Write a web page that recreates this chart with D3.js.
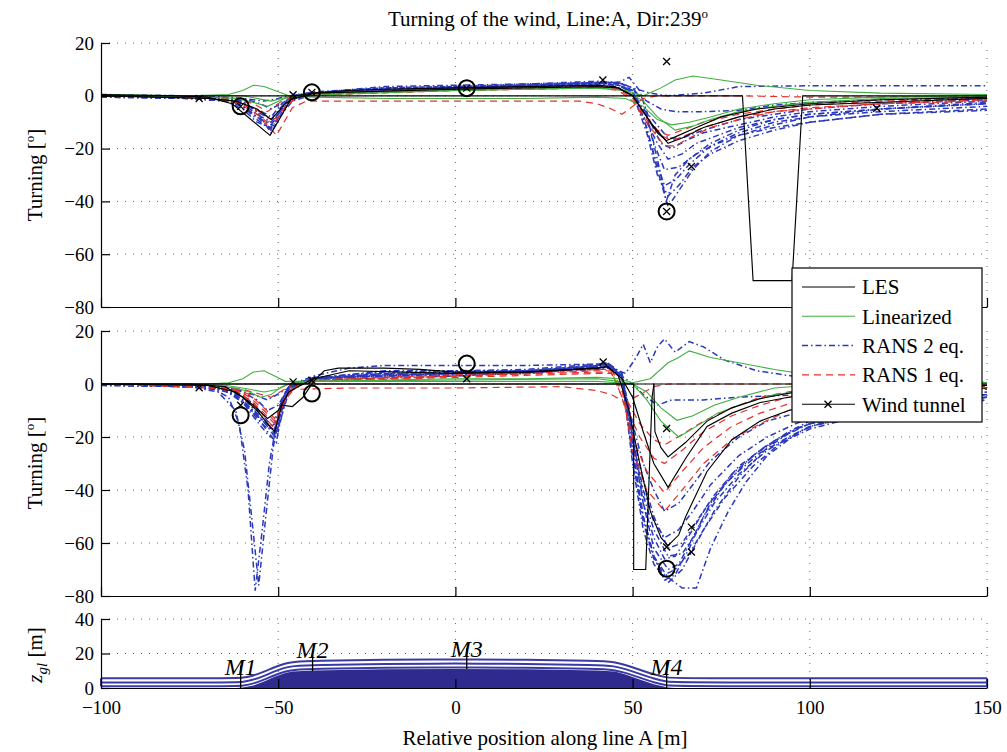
<!DOCTYPE html>
<html>
<head>
<meta charset="utf-8">
<script src="https://cdn.jsdelivr.net/npm/d3@7"></script>
<style>
body { margin: 0; background: #fff; }
svg { font-family: "Liberation Serif", "Times New Roman", serif; }
</style>
</head>
<body>
<div id="chart"></div>
<script>
// ---- data ----
var xTicks = [-100, -50, 0, 50, 100, 150];
var turnTicks = [-80, -60, -40, -20, 0, 20];
var zTicks = [0, 20, 40];

// upper panel
var topLES = [
  [[-100,0.5],[-80,0],[-70,-0.5],[-63,-3],[-52.3,-15],[-46.5,-1.5],[-40,1],[-30,2],[-20,2.5],[0,3],[20,3.5],[40,4],[45,3.5],[50,0],[54,-8],[57,-14],[59.5,-17],[63,-15],[68,-12],[75,-8],[85,-5],[100,-3],[120,-1.5],[150,-0.5]],
  [[-100,0],[81,0],[84,-70],[95,-70],[98,0],[150,0]],
  [[-100,0],[-70,-1],[-62,-2],[-56,-5],[-52,-9],[-48,-3],[-45,0],[-40,1],[0,2.5],[40,3.5],[46,3],[50,0],[55,-10],[60,-18],[64,-16],[70,-12],[80,-8],[90,-5],[100,-3.5],[150,-1]]
];
var topLin = [
  [[-100,0.5],[-75,0],[-64,0.5],[-60,2],[-57,4],[-54,3.5],[-50,1.5],[-47,0],[-45,0],[-40,1],[-20,1.5],[0,2],[20,2.5],[40,3],[48,2],[53,0],[58,3],[62,6],[67,7.5],[75,6],[85,4],[100,2],[120,1],[150,0.5]],
  [[-100,0],[-70,-0.5],[-62,-1],[-57,-2.5],[-53,-4],[-49,-1.5],[-46,0],[-40,-0.5],[-20,-1],[0,-1],[20,-1],[40,-0.5],[48,-1],[53,-4],[57,-9],[61,-11],[66,-10],[72,-8],[80,-5],[90,-3],[100,-1.5],[120,-0.5],[150,0]],
  [[-100,0],[-60,0],[-52,-2],[-46,0],[0,2],[40,3],[48,2],[53,-2],[57,-8],[62,-13],[67,-11.5],[72,-9],[80,-6],[90,-4],[100,-2.5],[120,-1],[150,-0.5]]
];
var topRans1 = [
  [[-100,0],[-70,-0.5],[-60,-3],[-55,-8],[-50.5,-15],[-46,-4.5],[-42,-2],[-20,-2],[0,-2],[20,-2],[35,-2],[40,-3],[44,-5],[47,-7],[50,-4],[53,-1],[57,0],[80,0],[100,-0.5],[120,-0.5],[150,0]],
  [[-100,0],[-70,-1],[-62,-2.5],[-57,-6],[-53,-10],[-50,-8],[-47,-3],[-44,0],[-40,1],[0,2.5],[20,3],[40,3.5],[46,3],[50,0],[54,-8],[57,-13],[60,-15],[64,-13],[70,-10],[80,-7],[90,-5],[100,-3.5],[120,-2],[150,-1]],
  [[-100,0],[-65,-1],[-58,-4],[-54,-7],[-51,-10],[-48,-4],[-45,-1],[-40,0.5],[0,2],[40,3],[46,2.5],[50,-1],[54,-9],[58,-15],[61,-17],[65,-15],[70,-12],[80,-8],[90,-6],[100,-4.5],[120,-3],[150,-2]],
  [[-100,0],[-62,-1],[-57,-3],[-53,-6],[-49,-2],[-45,0],[0,2],[40,3],[46,2],[50,-2],[55,-12],[59,-19],[62,-19],[66,-16],[72,-12],[80,-9],[90,-6],[100,-5],[120,-3],[150,-1.5]]
];
var topRans2 = [
  [[-100,0],[-75,-0.5],[-65,-1.5],[-60,-4],[-56,-9],[-52,-13],[-49,-6],[-46,-1],[-40,1],[-20,2.5],[0,3],[20,4],[40,5],[46,4.5],[50,1],[54,-12],[57,-28],[60,-42],[63,-36],[67,-28],[72,-21],[80,-15],[90,-11],[100,-8],[120,-5],[150,-3]],
  [[-100,-0.5],[-75,-1],[-65,-2],[-60,-5],[-56,-10],[-52,-12],[-49,-4],[-46,0],[-40,1.5],[-20,3],[0,3.5],[20,4.5],[40,5.5],[46,5],[50,2],[53,-8],[56,-22],[59,-34],[62,-32],[66,-26],[72,-19],[80,-14],[90,-10],[100,-8],[120,-6],[150,-4]],
  [[-100,0],[-75,-0.5],[-65,-1],[-60,-3],[-56,-7],[-52,-10],[-49,-5],[-46,-1],[-40,1],[-20,2],[0,2.5],[20,3],[40,4],[46,3],[50,0],[54,-10],[57,-18],[60,-24],[64,-22],[68,-18],[74,-15],[80,-12],[90,-9],[100,-7],[120,-5],[150,-2.5]],
  [[-100,0.5],[-75,0],[-65,-1],[-60,-2],[-56,-6],[-52,-14],[-49,-7],[-46,-2],[-40,0.5],[-20,2],[0,2.5],[20,3.5],[40,4.5],[46,4],[50,1],[54,-14],[57,-30],[60,-38],[63,-34],[67,-27],[72,-22],[80,-17],[90,-13],[100,-10],[120,-7],[150,-5]],
  [[-100,0],[-75,-1],[-65,-1.5],[-60,-3],[-56,-5],[-52,-8],[-49,-3],[-46,0],[-40,1],[-20,2.5],[0,3],[20,3.5],[40,4.5],[46,5],[49,7],[52,2],[55,-10],[58,-18],[61,-20],[65,-17],[70,-14],[80,-11],[90,-8],[100,-6],[120,-4],[150,-2]],
  [[-100,-0.5],[-75,-1],[-65,-2],[-60,-4],[-56,-8],[-52,-11],[-49,-5],[-46,-1],[-40,1],[-20,2],[0,3],[20,4],[40,5],[46,5],[50,3],[53,-2],[56,-18],[59,-28],[63,-27],[68,-22],[74,-18],[80,-15],[90,-12],[100,-10],[120,-7],[150,-5.5]],
  [[-100,0],[-70,0],[-60,-1],[-55,-3],[-52,-5],[-48,-2],[-45,0],[-40,1],[-20,3],[0,3.5],[20,4],[40,4.5],[46,4],[50,2],[54,-2],[58,-5],[62,-6],[70,-6],[80,-5.5],[90,-3.5],[100,-2.5],[120,-1.5],[150,-1]],
  [[-100,0],[-70,-0.5],[-60,-1],[-54,-2],[-50,-1],[-45,0.5],[-20,3.5],[0,4],[20,4.5],[40,5],[46,5],[50,3],[55,1],[60,0],[70,1],[80,3.5],[100,3.8],[150,3.8]],
  [[-100,0],[-75,-0.5],[-65,-1.5],[-60,-3.5],[-56,-8],[-52,-12.5],[-49,-6],[-46,-1],[-40,1],[-20,2.5],[0,3],[20,4],[40,5],[46,4],[50,2],[54,-8],[57,-24],[59.5,-40],[62,-30],[66,-24],[72,-18],[80,-13],[90,-9],[100,-7],[120,-5],[150,-3]],
  [[-100,0],[-75,-0.5],[-65,-1],[-60,-2.5],[-56,-6],[-52,-9],[-49,-4],[-46,0],[-40,1],[0,2.5],[40,4],[46,3],[50,0],[55,-8],[60,-16],[64,-16],[70,-13],[80,-9],[90,-7],[100,-5],[120,-3],[150,-1.5]]
];
var topTunnel = [[-72.3,-1],[-60.6,-4],[-45.8,0.4],[-40.5,1.3],[3.2,2.9],[41.6,6],[59.6,13],[59.6,-43.8],[66.6,-26.8],[118.9,-4.7]];
var topCircles = [[-60.6,-4],[-40.5,1.3],[3.2,2.9],[59.6,-43.8]];

// middle panel
var midLES = [
  [[-100,0],[-75,0],[-65,-1],[-60,-5],[-56,-10],[-53,-15],[-51,-18],[-49,-8],[-46,-8.5],[-43,-5],[-40,1],[-37,5],[-33,6],[-20,6],[-10,5.5],[0,4.5],[20,4.5],[40,6],[43,6.5],[46,3],[49,-10],[52,-30],[55,-48],[58,-58],[60,-61],[63,-57],[65,-50],[71,-33],[78,-21],[86,-14],[94,-10],[100,-8],[120,-4],[150,-1.5]],
  [[-100,0],[-70,-0.5],[-62,-3],[-57,-8],[-53,-13],[-50,-10],[-47,-3],[-43,0],[-40,2],[-30,5],[0,4],[20,4.5],[40,6],[43,6.5],[47,2],[50,-5],[53,-18],[56,-30],[60,-39],[65,-28],[71,-16],[78,-11],[86,-7],[94,-5],[100,-4],[120,-2],[150,-0.5]],
  [[-100,0],[56,0],[56.3,-18],[58,-24],[60,-27.5],[65,-22],[71,-14],[78,-9],[86,-5.5],[94,-3.5],[100,-2.5],[150,-0.5]],
  [[-100,0],[50.3,0],[50.3,-70],[53.7,-70],[55.5,-5],[56,0],[150,0]]
];
var midLin = [
  [[-100,0],[-70,0],[-64,0.5],[-60,2],[-57,4.5],[-54,5],[-51,3],[-48,1],[-45,1],[-40,1],[-20,1.5],[0,2],[20,2],[40,2.5],[46,2],[50,0.5],[55,2],[60,8],[63,10],[66,12.5],[72,10],[80,8],[90,5.5],[100,3.5],[120,1.5],[150,0.5]],
  [[-100,0],[-70,-0.5],[-62,-1.5],[-58,-3],[-55,-5],[-52,-4],[-49,-1],[-46,0.5],[-40,1],[0,1],[40,1],[46,0.5],[50,0],[54,-3],[58,-9],[62.5,-13.7],[67,-12],[73,-8],[80,-5],[90,-1.5],[100,-0.5],[150,0]],
  [[-100,0],[-65,-0.5],[-58,-2],[-54,-3],[-50,-2],[-47,0],[-40,1],[0,1.5],[40,2],[46,1],[50,0],[54,-6],[58,-14],[63,-20],[68,-16],[74,-11],[80,-8],[90,-4],[100,-2.5],[120,-1],[150,0]]
];
var midRans1 = [
  [[-100,0],[-70,-1],[-62,-3],[-57,-7],[-54,-12],[-51,-17],[-49,-8],[-46,-1],[-40,1],[0,2.5],[40,4],[44,4],[48,-5],[52,-15],[56,-21],[59,-23],[64,-19],[70,-14],[78,-9],[86,-5],[94,-3],[100,-2],[120,-1],[150,-0.5]],
  [[-100,0],[-70,-0.5],[-62,-2],[-58,-5],[-54,-10],[-51,-14],[-48,-5],[-45,-1],[-40,1.5],[0,3],[40,4.5],[44,4.5],[48,-8],[52,-20],[56,-28],[59,-30],[64,-25],[70,-18],[78,-12],[86,-8],[94,-5],[100,-4],[120,-2],[150,-1]],
  [[-100,0],[-70,-1],[-62,-2.5],[-58,-6],[-54,-11],[-51,-15],[-48,-6],[-45,-1],[-40,1],[0,3],[40,5],[44,5],[47,-5],[50,-20],[54,-33],[59,-41],[64,-33],[70,-24],[78,-16],[86,-11],[94,-7.5],[100,-6],[120,-3],[150,-1.5]],
  [[-100,0],[-70,-0.5],[-62,-2],[-58,-4],[-54,-9],[-51,-13],[-48,-5],[-45,-1],[-40,1.5],[0,3.5],[40,5.5],[44,5.5],[47,-2],[50,-25],[54,-40],[59,-48],[64,-40],[70,-30],[78,-21],[86,-15],[94,-10],[100,-8],[120,-4],[150,-2]],
  [[-100,0],[-60,-2],[-52,-5],[-47,-1],[-44,-2],[-30,-1.5],[0,-1.5],[30,-1],[40,-2.5],[44,-4],[48,-7],[52,-4],[56,-1],[60,0],[150,0]]
];
var midRans2 = [
  [[-100,0],[-75,-0.5],[-68,-2],[-64,-5],[-61,-15],[-58.5,-40],[-56.5,-78],[-54.5,-55],[-52.5,-30],[-50.5,-15],[-48,-3],[-45,0],[-40,2],[-20,3],[0,3.5],[20,4],[40,6.5],[43,7],[47,2],[50,-25],[53,-50],[56,-65],[59,-74],[62,-72],[66,-62],[70,-50],[76,-38],[84,-27],[92,-20],[100,-15],[120,-9],[150,-5]],
  [[-100,-0.5],[-75,-1],[-67,-3],[-62,-10],[-59.5,-25],[-57.5,-50],[-55.5,-76],[-53.5,-50],[-51.5,-25],[-49.5,-8],[-47,-1],[-40,2],[-20,3.5],[0,4],[20,4.5],[40,7],[43,7.5],[47,3],[50,-20],[53,-45],[56,-62],[60,-70],[63,-68],[67,-58],[72,-45],[78,-34],[86,-25],[94,-18],[100,-14],[120,-8],[150,-4]],
  [[-100,0],[-75,-1],[-65,-2],[-60,-6],[-56,-12],[-53,-18],[-50.5,-22],[-49,-10],[-47,-2],[-43,1],[-40,2],[-20,4],[0,4],[20,5],[40,7],[43,8],[47,3],[50,-30],[53,-55],[56,-68],[60,-75],[64,-70],[68,-60],[73,-48],[80,-35],[88,-24],[96,-17],[100,-15],[120,-9],[150,-5]],
  [[-100,0],[-75,-0.5],[-65,-1.5],[-60,-5],[-56,-11],[-53,-16],[-51,-20],[-49,-12],[-47,-3],[-43,0],[-40,2],[-20,5],[0,5],[20,5.5],[40,7.5],[43,8],[47,4],[50,-22],[53,-45],[56,-58],[59,-66],[62,-65],[66,-57],[71,-46],[78,-35],[86,-26],[94,-20],[100,-16],[120,-10],[150,-6]],
  [[-100,-0.5],[-75,-1],[-65,-2],[-60,-7],[-56,-14],[-53,-19],[-51,-21],[-49,-9],[-47,-2],[-43,1],[-40,2.5],[-20,3],[0,3.5],[20,4],[40,6],[43,7],[47,2],[50,-25],[53,-50],[56,-65],[60,-73],[64,-77],[68,-77],[72,-62],[77,-48],[82,-37],[88,-27],[97,-18],[107,-12.5],[120,-9],[150,-5]],
  [[-100,0],[-75,-0.5],[-65,-1],[-60,-4],[-56,-9],[-53,-14],[-51,-17],[-49,-7],[-47,-1],[-40,2],[-20,4],[0,4.5],[20,5],[40,6.5],[43,7],[47,2],[50,-20],[53,-40],[56,-52],[59,-58],[63,-55],[67,-48],[72,-38],[80,-27],[88,-20],[96,-15],[100,-13],[120,-8],[150,-4]],
  [[-100,0],[-75,-1],[-65,-2],[-60,-5],[-56,-10],[-53,-15],[-51,-19],[-49,-9],[-47,-2],[-40,2],[-20,3.5],[0,4],[20,4.5],[40,6.5],[43,7],[47,3],[50,-15],[53,-30],[56,-40],[59,-48],[63,-45],[67,-38],[72,-29],[80,-20],[88,-14],[96,-11],[100,-10],[120,-6],[150,-3]],
  [[-100,0],[-75,-0.5],[-65,-1],[-60,-3],[-56,-6],[-53,-10],[-50,-8],[-47,-1],[-40,1.5],[0,3],[40,5.5],[43,6],[47,3],[50,0],[53,-4],[57,-8],[61,-6],[70,-6],[80,-5],[88,-4.5],[100,-4],[120,-3],[150,-2]],
  [[-100,0],[-70,-0.5],[-62,-2],[-57,-4],[-53,-6],[-49,-3],[-45,0],[-40,2],[0,4],[40,6],[44,6],[48,4],[51,10],[53,15],[55,8],[57,14],[59,17],[62,12],[66,16],[70,14],[76,9],[85,5],[95,3],[110,1.5],[150,0.5]],
  [[-100,0],[-75,-1],[-65,-2],[-60,-6],[-56,-13],[-53,-17],[-51,-15],[-49,-6],[-47,-1],[-40,2.5],[-20,4.5],[0,5],[20,5],[40,7],[43,7.5],[47,4],[50,-18],[53,-36],[56,-50],[60,-62],[64,-60],[68,-52],[73,-42],[80,-31],[88,-23],[96,-17],[100,-15],[120,-9],[150,-5]],
  [[-100,-0.5],[-75,-1],[-65,-2.5],[-60,-7],[-56,-12],[-53,-15],[-51,-18],[-49,-8],[-47,-1],[-40,2],[-20,3],[0,3.5],[20,4],[40,6.5],[43,7],[47,3],[50,-28],[53,-52],[56,-66],[59,-72],[62,-70],[66,-64],[70,-55],[76,-43],[84,-31],[92,-22],[100,-17],[120,-10],[150,-6]],
  [[-100,0],[-70,-1],[-62,-4],[-57,-10],[-53,-16],[-50,-18],[-48,-6],[-46,0],[-40,3],[-30,6],[-20,7],[0,7],[20,7],[40,7.5],[43,8],[47,3],[50,-20],[53,-42],[56,-55],[60,-65],[64,-64],[68,-56],[73,-45],[80,-34],[88,-25],[96,-19],[100,-16],[120,-10],[150,-5]]
];
var midTunnel = [[-72.3,-1.4],[-60.6,-8],[-45.8,0.8],[-40.5,1.4],[3.2,2],[41.7,8.3],[59.6,-16.8],[59.6,-61.5],[66.6,-54],[66.6,-63.4]];
var midCircles = [[-60.6,-11.8],[-40.5,-3.6],[3.2,7.7],[59.6,-69.7]];

// lower panel: ground height along line A
var groundX = [-100,-62,-60,-57,-54,-51,-48,-46,-40,-20,0,20,40,45,48,52,56,60,62,150];
var groundZ = [0,0,0.3,1.5,3.8,6.5,8.7,9.5,10.2,10.8,11,10.8,10.2,9.5,7.8,5,2.2,0.3,0,0];
var meshOffsets = [1, 3.2, 5.6];
var mastNames = ["M1", "M2", "M3", "M4"];
var mastX = [-60.6, -40.3, 3.2, 59.6];
var mastBase = [0, 9.8, 11, 0];
var mastTop = [13, 19.5, 23, 15];
var mastLabelZ = [7.5, 17.4, 18.2, 7.5];

var legendNames = ["LES", "Linearized", "RANS 2 eq.", "RANS 1 eq.", "Wind tunnel"];

// ---- drawing ----
var width = 1007, height = 752;
var x = d3.scaleLinear().domain([-100, 150]).range([101, 987]);

var styles = {
  rans2: {stroke: "#2a38bc", width: 1.5, dash: "6,3,1.5,3"},
  rans1: {stroke: "#e4302a", width: 1.2, dash: "7,5"},
  lin:   {stroke: "#3fae3f", width: 1.1, dash: null},
  les:   {stroke: "#000",    width: 1.15, dash: null}
};

var svg = d3.select("#chart").append("svg")
  .attr("width", width)
  .attr("height", height);

svg.append("text")
  .attr("x", 548).attr("y", 26)
  .attr("text-anchor", "middle")
  .style("font-size", "21px")
  .text("Turning of the wind, Line:A, Dir:239")
  .append("tspan").attr("dy", -8).style("font-size", "13px").text("o");

function grid(g, y, yTicks) {
  g.selectAll(".hgrid")
    .data(yTicks.slice(1))
  .enter().append("line")
    .attr("x1", x(-100)).attr("x2", x(150))
    .attr("y1", function(d) { return y(d); })
    .attr("y2", function(d) { return y(d); })
    .attr("stroke", "#666").attr("stroke-width", 1)
    .attr("stroke-dasharray", "1,7");
  g.selectAll(".vgrid")
    .data(xTicks.slice(1))
  .enter().append("line")
    .attr("x1", function(d) { return x(d); })
    .attr("x2", function(d) { return x(d); })
    .attr("y1", y.range()[0]).attr("y2", y.range()[1])
    .attr("stroke", "#666").attr("stroke-width", 1)
    .attr("stroke-dasharray", "1,7");
}

function axes(g, y, yTicks, labels) {
  var ya = g.append("g")
    .attr("transform", "translate(" + x(-100) + ",0)")
    .call(d3.axisLeft(y).tickValues(yTicks).tickSizeInner(-9).tickSizeOuter(0).tickPadding(7));
  var xa = g.append("g")
    .attr("transform", "translate(0," + y.range()[0] + ")")
    .call(d3.axisBottom(x).tickValues(xTicks).tickSizeInner(-9).tickSizeOuter(0).tickPadding(13)
      .tickFormat(labels ? null : function() { return ""; }));
  [ya, xa].forEach(function(a) {
    a.attr("font-family", null).attr("font-size", null).style("font-size", "19px");
    a.selectAll("path,line").attr("stroke", "#000").attr("stroke-width", 1.2);
    a.selectAll("text").attr("fill", "#000");
  });
}

function cross(g, pts, y) {
  g.selectAll(".wt")
    .data(pts)
  .enter().append("path")
    .attr("d", function(d) {
      var cx = x(d[0]), cy = y(d[1]), s = 3.5;
      return "M" + (cx - s) + "," + (cy - s) + "L" + (cx + s) + "," + (cy + s) +
             "M" + (cx - s) + "," + (cy + s) + "L" + (cx + s) + "," + (cy - s);
    })
    .attr("stroke", "#000").attr("stroke-width", 1.3).attr("fill", "none");
}

var panels = [
  {name: "top", y: d3.scaleLinear().domain([-80, 20]).range([307, 43]),
   series: [["rans2", topRans2], ["rans1", topRans1], ["lin", topLin], ["les", topLES]],
   tunnel: topTunnel, circles: topCircles, labelY: 175},
  {name: "mid", y: d3.scaleLinear().domain([-80, 20]).range([596, 331]),
   series: [["rans2", midRans2], ["rans1", midRans1], ["lin", midLin], ["les", midLES]],
   tunnel: midTunnel, circles: midCircles, labelY: 463}
];

panels.forEach(function(p) {
  var g = svg.append("g").attr("class", p.name);
  var y = p.y;
  g.append("clipPath").attr("id", "clip-" + p.name)
    .append("rect")
    .attr("x", x(-100)).attr("y", y(20))
    .attr("width", x(150) - x(-100)).attr("height", y(-80) - y(20));

  grid(g, y, turnTicks);

  var line = d3.line()
    .x(function(d) { return x(d[0]); })
    .y(function(d) { return y(d[1]); });

  var plot = g.append("g").attr("clip-path", "url(#clip-" + p.name + ")");
  p.series.forEach(function(s) {
    var st = styles[s[0]];
    plot.selectAll(".c-" + s[0])
      .data(s[1])
    .enter().append("path")
      .attr("d", line)
      .attr("fill", "none")
      .attr("stroke", st.stroke)
      .attr("stroke-width", st.width)
      .attr("stroke-dasharray", st.dash);
  });

  cross(g, p.tunnel, y);
  g.selectAll(".circ")
    .data(p.circles)
  .enter().append("circle")
    .attr("cx", function(d) { return x(d[0]); })
    .attr("cy", function(d) { return y(d[1]); })
    .attr("r", 8)
    .attr("fill", "none").attr("stroke", "#000").attr("stroke-width", 2);

  axes(g, y, turnTicks, false);

  var lab = g.append("text")
    .attr("transform", "translate(42," + p.labelY + ") rotate(-90)")
    .attr("text-anchor", "middle")
    .style("font-size", "21px")
    .text("Turning [");
  lab.append("tspan").attr("dy", -8).style("font-size", "13px").text("o");
  lab.append("tspan").attr("dy", 8).text("]");
});

// lower panel
var yz = d3.scaleLinear().domain([0, 40]).range([688, 619]);
var gb = svg.append("g").attr("class", "ground");
grid(gb, yz, zTicks);

var ground = groundX.map(function(d, i) { return [d, groundZ[i]]; });

gb.append("path")
  .datum(ground)
  .attr("d", d3.area()
    .x(function(d) { return x(d[0]); })
    .y0(yz(0))
    .y1(function(d) { return yz(d[1]); }))
  .attr("fill", "#2e2a8e");

meshOffsets.forEach(function(off) {
  gb.append("path")
    .datum(ground)
    .attr("d", d3.line()
      .curve(d3.curveBasis)
      .x(function(d) { return x(d[0]); })
      .y(function(d) { return yz(d[1] + off); }))
    .attr("fill", "none")
    .attr("stroke", "#3a3aa6")
    .attr("stroke-width", 2);
});
[-100, 150].forEach(function(xe) {
  gb.append("line")
    .attr("x1", x(xe)).attr("x2", x(xe))
    .attr("y1", yz(meshOffsets[0])).attr("y2", yz(meshOffsets[2]))
    .attr("stroke", "#3a3aa6").attr("stroke-width", 2);
});

gb.selectAll(".mast")
  .data(mastX)
.enter().append("line")
  .attr("x1", function(d) { return x(d); })
  .attr("x2", function(d) { return x(d); })
  .attr("y1", function(d, i) { return yz(mastBase[i]); })
  .attr("y2", function(d, i) { return yz(mastTop[i]); })
  .attr("stroke", "#000").attr("stroke-width", 1.3);

gb.selectAll(".mastlab")
  .data(mastNames)
.enter().append("text")
  .attr("x", function(d, i) { return x(mastX[i]); })
  .attr("y", function(d, i) { return yz(mastLabelZ[i]); })
  .attr("text-anchor", "middle")
  .style("font-size", "24px")
  .style("font-style", "italic")
  .text(function(d) { return d; });

axes(gb, yz, zTicks, true);

var zl = gb.append("text")
  .attr("transform", "translate(42,655) rotate(-90)")
  .attr("text-anchor", "middle")
  .style("font-size", "21px");
zl.append("tspan").style("font-style", "italic").text("z");
zl.append("tspan").attr("dy", 5).style("font-style", "italic").style("font-size", "15px").text("gl");
zl.append("tspan").attr("dy", -5).text(" [m]");

svg.append("text")
  .attr("x", 545).attr("y", 745)
  .attr("text-anchor", "middle")
  .style("font-size", "21px")
  .text("Relative position along line A [m]");

// legend
var lg = svg.append("g").attr("class", "legendbox");
lg.append("rect")
  .attr("x", 792).attr("y", 268).attr("width", 190).attr("height", 154)
  .attr("fill", "#fff").attr("stroke", "#000").attr("stroke-width", 1.2);

var legendStyle = [styles.les, styles.lin, styles.rans2, styles.rans1, styles.les];
var legend = lg.selectAll(".legend")
  .data(legendNames)
.enter().append("g")
  .attr("class", "legend")
  .attr("transform", function(d, i) { return "translate(0," + (287 + i * 29.3) + ")"; });

legend.append("line")
  .attr("x1", 802).attr("x2", 855)
  .attr("stroke", function(d, i) { return legendStyle[i].stroke; })
  .attr("stroke-width", function(d, i) { return legendStyle[i].width; })
  .attr("stroke-dasharray", function(d, i) { return legendStyle[i].dash; });

legend.append("text")
  .attr("x", 862).attr("dy", "0.35em")
  .style("font-size", "21px")
  .text(function(d) { return d; });

legend.filter(function(d, i) { return i === 4; })
  .append("path")
  .attr("d", "M824.5,-3.5L831.5,3.5M824.5,3.5L831.5,-3.5")
  .attr("stroke", "#000").attr("stroke-width", 1.3);
</script>
</body>
</html>
